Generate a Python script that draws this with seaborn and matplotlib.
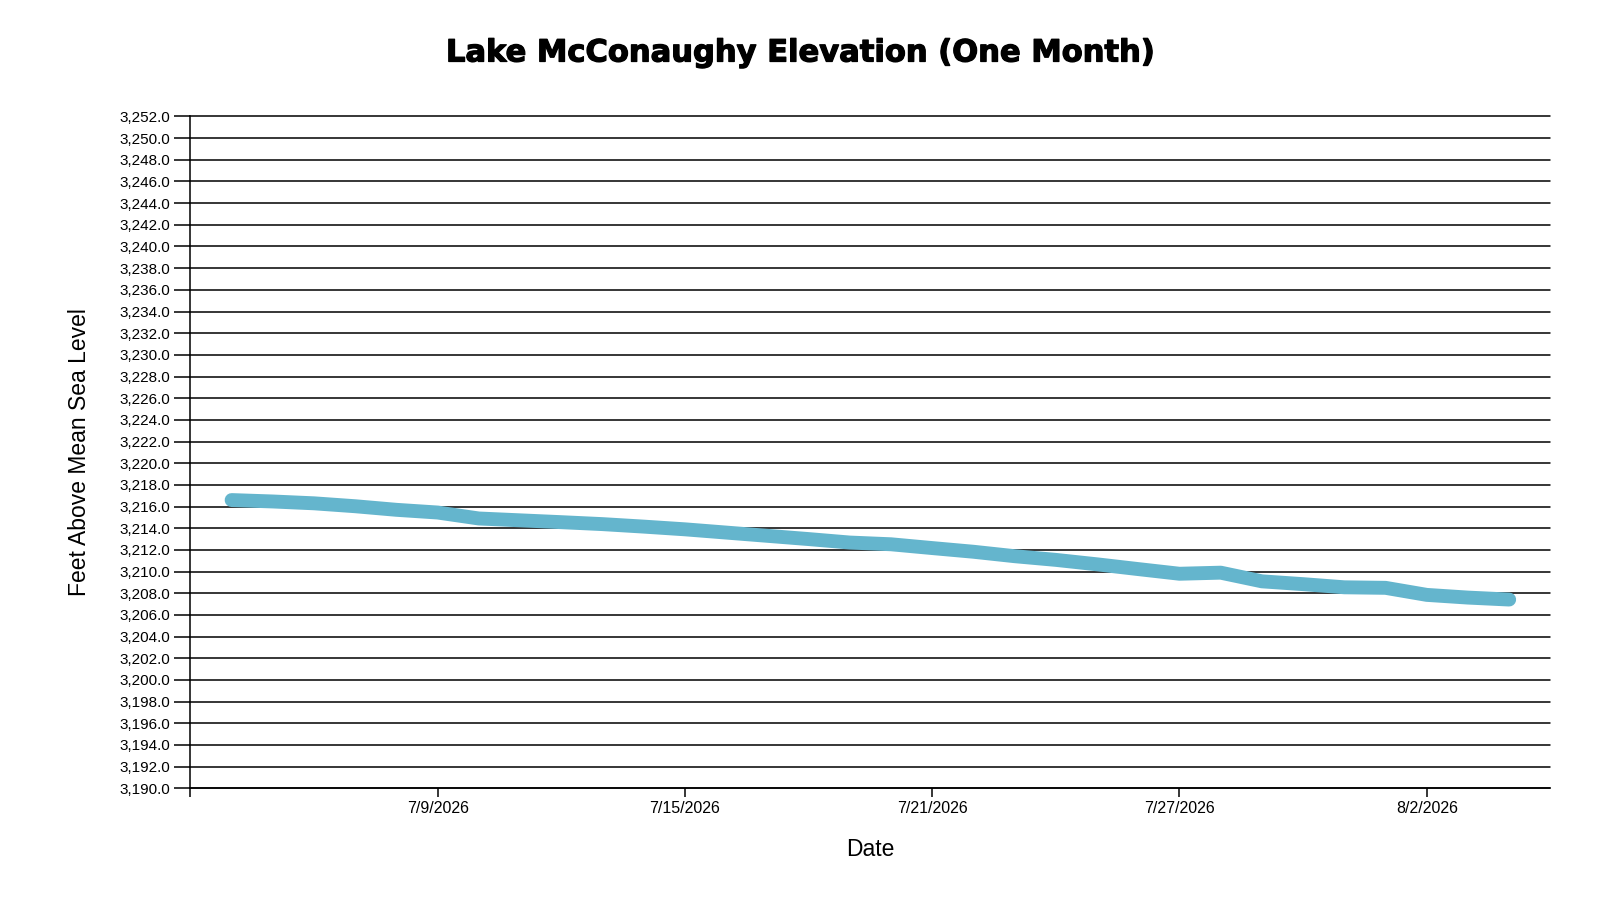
import pandas as pd
import seaborn as sns
import matplotlib.pyplot as plt
import matplotlib.patheffects as pe


DATES = ['2026-07-04', '2026-07-05', '2026-07-06', '2026-07-07',
         '2026-07-08', '2026-07-09', '2026-07-10', '2026-07-11',
         '2026-07-12', '2026-07-13', '2026-07-14', '2026-07-15',
         '2026-07-16', '2026-07-17', '2026-07-18', '2026-07-19',
         '2026-07-20', '2026-07-21', '2026-07-22', '2026-07-23',
         '2026-07-24', '2026-07-25', '2026-07-26', '2026-07-27',
         '2026-07-28', '2026-07-29', '2026-07-30', '2026-07-31',
         '2026-08-01', '2026-08-02', '2026-08-03', '2026-08-04']

ELEVATION = [3216.60, 3216.47, 3216.30, 3216.03, 3215.70, 3215.45,
             3214.90, 3214.73, 3214.56, 3214.38, 3214.15, 3213.90,
             3213.60, 3213.30, 3213.00, 3212.68, 3212.52, 3212.17,
             3211.83, 3211.42, 3211.08, 3210.67, 3210.23, 3209.80,
             3209.90, 3209.10, 3208.84, 3208.55, 3208.50, 3207.85,
             3207.60, 3207.42]

TICK_DATES = ['2026-07-03', '2026-07-09', '2026-07-15', '2026-07-21',
              '2026-07-27', '2026-08-02']
TICK_LABELS = ['', '7/9/2026', '7/15/2026', '7/21/2026', '7/27/2026',
               '8/2/2026']

Y_MIN, Y_MAX, Y_STEP = 3190, 3252, 2

LINE_COLOR = '#64b5cd'


def plt_elevation() -> None:
    df = pd.DataFrame({'Date': pd.to_datetime(DATES),
                       'Elevation': ELEVATION})

    sns.set_style('white')
    plt.rcParams['font.family'] = ['Liberation Sans', 'DejaVu Sans']

    fig = plt.figure(figsize=(16, 9), dpi=100)
    ax = fig.add_axes([0.119, 0.1241, 0.850, 0.7465])

    sns.lineplot(data=df, x='Date', y='Elevation', ax=ax,
                 color=LINE_COLOR, linewidth=10)
    for line in ax.lines:
        line.set_solid_capstyle('round')
        line.set_solid_joinstyle('round')

    ax.set_xlim(pd.Timestamp('2026-07-03'), pd.Timestamp('2026-08-05'))
    ax.set_ylim(Y_MIN, Y_MAX)

    ax.set_yticks(range(Y_MIN, Y_MAX + 1, Y_STEP))
    ax.set_yticklabels([f"{v:,.1f}" for v in range(Y_MIN, Y_MAX + 1, Y_STEP)])
    ax.set_xticks(pd.to_datetime(TICK_DATES))
    ax.set_xticklabels(TICK_LABELS)

    ax.yaxis.grid(True, color='black', linewidth=1.1)
    ax.xaxis.grid(False)
    ax.set_axisbelow(True)
    for gl in ax.get_ygridlines():
        gl.set_clip_on(False)

    for side in ['top', 'right']:
        ax.spines[side].set_visible(False)
    for side in ['left', 'bottom']:
        ax.spines[side].set_color('black')
        ax.spines[side].set_linewidth(1.1)

    ax.tick_params(axis='y', length=11.5, width=1.1, color='black',
                   pad=3, labelsize=11, labelcolor='black', left=True)
    ax.tick_params(axis='x', length=6.5, width=1.1, color='black',
                   pad=2.5, labelsize=11.5, labelcolor='black', bottom=True)

    ax.set_xlabel('Date', fontsize=16.5, color='black')
    ax.set_ylabel('Feet Above Mean Sea Level', fontsize=16.5, color='black')
    ax.xaxis.set_label_coords(0.5, -0.074)
    ax.yaxis.set_label_coords(-0.073, 0.5)

    title = fig.text(0.4994, 1 - 53 / 900,
                     'Lake McConaughy Elevation (One Month)',
                     ha='center', va='center', fontsize=22,
                     fontweight='bold', family='DejaVu Sans', color='black')
    title.set_path_effects([pe.withStroke(linewidth=0.9, foreground='black')])

    fig.savefig('out.png', dpi=100)


plt_elevation()
